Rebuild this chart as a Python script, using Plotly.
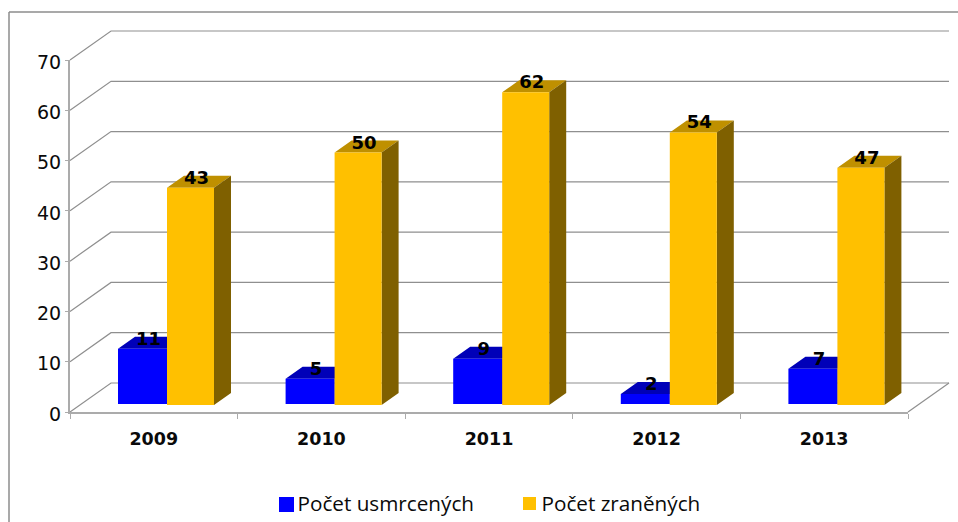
import plotly.graph_objects as go

# ---- data ----
years = ["2009", "2010", "2011", "2012", "2013"]
killed = [11, 5, 9, 2, 7]
injured = [43, 50, 62, 54, 47]
name_killed = "Počet usmrcených"
name_injured = "Počet zraněných"
value_ticks = [0, 10, 20, 30, 40, 50, 60, 70]

# ---- layout constants (pixels of the 958x522 page) ----
W, H = 958, 522
PX_L, PX_R, PY_0, PY_70 = 70, 908, 412, 60
CAT = (PX_R - PX_L) / 5
UNIT = (PY_0 - PY_70) / 70
WALL_DX, WALL_DY = 41 / CAT, 29 / UNIT      # depth of the chart box
BAR_DX, BAR_DY = 17 / CAT, 12 / UNIT        # depth of one bar
BASE = 8 / UNIT                             # bars stand a bit inside the floor
BLUE_OFF, BLUE_W = -35.8 / CAT, 49 / CAT
ORANGE_OFF, ORANGE_W = 13.2 / CAT, 47 / CAT
ORANGE_BASE = BASE - 1 / UNIT

BLUE, BLUE_TOP = "#0000FF", "#0000B8"
ORANGE, ORANGE_TOP, ORANGE_SIDE = "#FFC000", "#BF9000", "#7F6000"
GRID = "#8F8F8F"
AXIS = "#ABABAB"
FRAME = "#8C8C8C"
TEXT = "#0A0A0A"


def px_x(px):
    return (px - PX_L) / CAT - 0.5


def px_y(py):
    return (PY_0 - py) / UNIT


def faces(values, off, width, base):
    top_x, top_y, side_x, side_y = [], [], [], []
    for i, v in enumerate(values):
        x0, x1 = i + off, i + off + width
        t = BASE + v
        top_x += [x0, x1, x1 + BAR_DX, x0 + BAR_DX, x0, None]
        top_y += [t, t, t + BAR_DY, t + BAR_DY, t, None]
        side_x += [x1, x1, x1 + BAR_DX, x1 + BAR_DX, x1, None]
        side_y += [base, t, t + BAR_DY, base + BAR_DY, base, None]
    return top_x, top_y, side_x, side_y


fig = go.Figure()

# chart box: back wall, side wall and floor lines
grid_x, grid_y = [], []
for v in value_ticks:
    grid_x += [-0.5, -0.5 + WALL_DX, 4.5 + WALL_DX, None]
    grid_y += [v, v + WALL_DY, v + WALL_DY, None]
grid_x += [4.5, 4.5 + WALL_DX, None]
grid_y += [0, WALL_DY, None]
fig.add_trace(go.Scatter(x=grid_x, y=grid_y, mode="lines", showlegend=False, hoverinfo="skip",
                         line=dict(color=GRID, width=1.2), xaxis="x", yaxis="y"))

# bar depth faces
for values, off, width, base, c_top, c_side in [
    (killed, BLUE_OFF, BLUE_W, BASE, BLUE_TOP, BLUE_TOP),
    (injured, ORANGE_OFF, ORANGE_W, ORANGE_BASE, ORANGE_TOP, ORANGE_SIDE),
]:
    tx, ty, sx, sy = faces(values, off, width, base)
    fig.add_trace(go.Scatter(x=tx, y=ty, mode="lines", fill="toself", fillcolor=c_top,
                             line=dict(width=0), showlegend=False, hoverinfo="skip", xaxis="x", yaxis="y"))
    fig.add_trace(go.Scatter(x=sx, y=sy, mode="lines", fill="toself", fillcolor=c_side,
                             line=dict(width=0), showlegend=False, hoverinfo="skip", xaxis="x", yaxis="y"))

# value labels
LABEL_FONT = dict(family="DejaVu Sans", size=18, color="#000000", weight="bold")
for values, off, width in [(killed, BLUE_OFF, BLUE_W), (injured, ORANGE_OFF, ORANGE_W)]:
    fig.add_trace(go.Scatter(
        x=[i + off + width / 2 + 6 / CAT for i in range(len(values))],
        y=[BASE + v + 8.5 / UNIT for v in values],
        text=[str(v) for v in values], mode="text", textposition="middle center",
        textfont=LABEL_FONT, showlegend=False, hoverinfo="skip", xaxis="x", yaxis="y"))

# front faces: real bars on the front plane axes
fig.add_trace(go.Bar(x=years, y=killed, base=BASE, width=BLUE_W, offset=BLUE_OFF, marker=dict(color=BLUE, line=dict(width=0)),
                     name=name_killed, showlegend=False, xaxis="x2", yaxis="y2"))
fig.add_trace(go.Bar(x=years, y=[v + BASE - ORANGE_BASE for v in injured], base=ORANGE_BASE, width=ORANGE_W, offset=ORANGE_OFF,
                     marker=dict(color=ORANGE, line=dict(width=0)),
                     name=name_injured, showlegend=False, xaxis="x2", yaxis="y2"))

# legend row: key squares and their texts
for name, color, key_x, key_y, size, text_x in [
    (name_killed, BLUE, 286.5, 504.5, 15, 297.5),
    (name_injured, ORANGE, 529.5, 503.5, 13, 541.5),
]:
    fig.add_trace(go.Scatter(x=[px_x(key_x)], y=[px_y(key_y)], mode="markers", name=name,
                             showlegend=False, hoverinfo="skip",
                             marker=dict(symbol="square", size=size, color=color, line=dict(width=0)),
                             xaxis="x", yaxis="y"))
    fig.add_trace(go.Scatter(x=[px_x(text_x)], y=[px_y(506)], mode="text", name=name, text=[name],
                             textposition="middle right", showlegend=False, hoverinfo="skip",
                             textfont=dict(family="Open Sans", size=20.7, color=TEXT),
                             xaxis="x", yaxis="y"))

fig.update_layout(
    template="none",
    width=W, height=H, autosize=False,
    margin=dict(l=0, r=0, t=0, b=0, pad=0),
    paper_bgcolor="#FFFFFF", plot_bgcolor="rgba(0,0,0,0)",
    barmode="overlay", showlegend=False,
    font=dict(family="DejaVu Sans", color=TEXT),
    xaxis=dict(domain=[0, 1], visible=False, fixedrange=True, automargin=False,
               range=[px_x(0), px_x(W)]),
    yaxis=dict(domain=[0, 1], visible=False, fixedrange=True, automargin=False,
               range=[px_y(H), px_y(0)]),
    xaxis2=dict(domain=[PX_L / W, PX_R / W], anchor="y2", type="category", categoryorder="array", automargin=False,
                categoryarray=years, range=[-0.5, 4.5], tickson="boundaries", ticks="outside", ticklen=5,
                tickcolor=AXIS, tickwidth=1.2, showline=True, linecolor=AXIS, linewidth=1.5, showgrid=False,
                zeroline=False, tickfont=dict(family="DejaVu Sans", size=17.5, color=TEXT, weight="bold"),
                ticklabelstandoff=10),
    yaxis2=dict(domain=[(H - PY_0) / H, (H - PY_70) / H], anchor="x2", range=[0, 70], tickvals=value_ticks, automargin=False,
                ticks="outside", ticklen=3, tickcolor=AXIS, tickwidth=1.2, showline=True, linecolor=AXIS, linewidth=2,
                showgrid=False, zeroline=False, tickfont=dict(family="DejaVu Sans", size=19, color=TEXT),
                ticklabelshift=2),
    shapes=[
        dict(type="line", xref="paper", yref="paper", x0=9 / W, x1=1, y0=(H - 12) / H, y1=(H - 12) / H,
             line=dict(color=FRAME, width=1.5)),
        dict(type="line", xref="paper", yref="paper", x0=9 / W, x1=9 / W, y0=0, y1=(H - 12) / H,
             line=dict(color=FRAME, width=1.5)),
    ],
)

fig.write_html("out.html", config={"displayModeBar": False},
               post_script="document.body.style.margin='0';")
